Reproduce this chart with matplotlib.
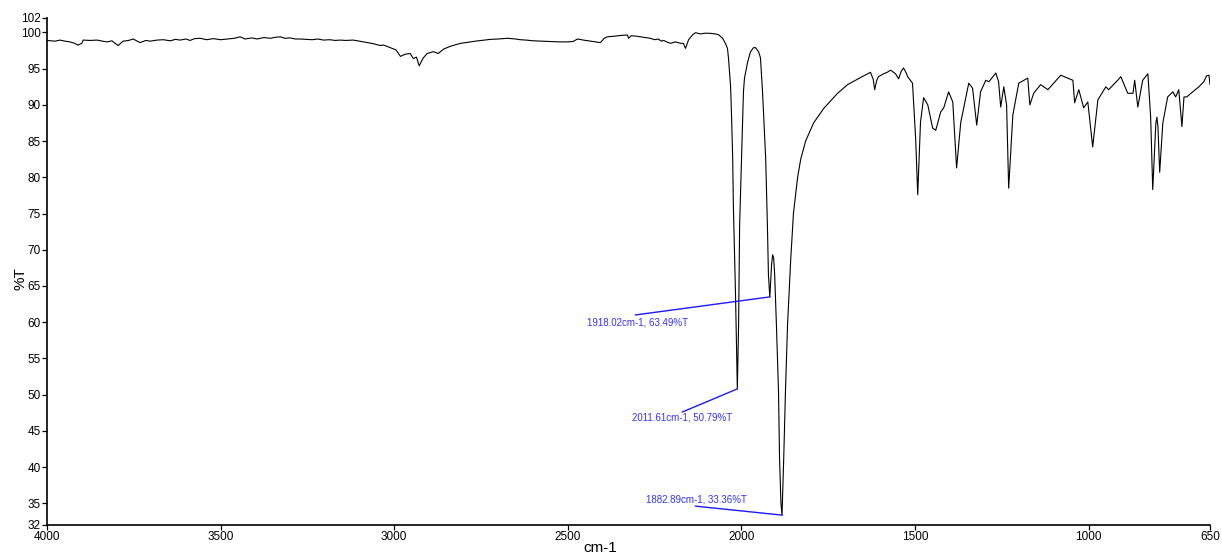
import matplotlib
matplotlib.use("Agg")
import matplotlib.pyplot as plt

# FT-IR transmittance spectrum (wavenumber in cm-1, transmittance in %T)
wavenumber = [
    4000, 3977, 3963, 3948, 3934, 3920, 3911, 3900, 3896, 3876, 3856, 3840,
    3827, 3813, 3801, 3795, 3781, 3765, 3752, 3740, 3732, 3715, 3703, 3683,
    3665, 3645, 3630, 3617, 3600, 3588, 3575, 3559, 3540, 3521, 3500, 3481,
    3460, 3444, 3430, 3410, 3395, 3375, 3357, 3340, 3328, 3315, 3300, 3285,
    3271, 3255, 3236, 3220, 3204, 3185, 3170, 3155, 3140, 3118, 3100, 3078,
    3060, 3040, 3031, 3011, 2995, 2982, 2968, 2954, 2945, 2936, 2928, 2916,
    2905, 2887, 2873, 2858, 2838, 2809, 2766, 2723, 2700, 2674, 2650, 2637,
    2620, 2599, 2575, 2550, 2525, 2501, 2485, 2472, 2455, 2435, 2420, 2406,
    2395, 2386, 2363, 2345, 2328, 2325, 2317, 2305, 2291, 2275, 2262, 2250,
    2240, 2230, 2224, 2215, 2204, 2190, 2175, 2167, 2161, 2152, 2140, 2132,
    2118, 2105, 2089, 2075, 2066, 2054, 2046, 2040, 2037, 2031, 2028, 2025,
    2023, 2020, 2017, 2014, 2011.61, 2008, 2005, 2000, 1997, 1994, 1991, 1982,
    1974, 1965, 1959, 1950, 1945, 1939, 1930, 1925, 1922, 1918.02, 1913, 1910,
    1907, 1904, 1899, 1893, 1890, 1886, 1882.89, 1878, 1873, 1867, 1858, 1850,
    1838, 1829, 1815, 1792, 1763, 1723, 1694, 1656, 1640, 1628, 1620, 1616,
    1610, 1605, 1590, 1580, 1570, 1556, 1547, 1540, 1533, 1527, 1521, 1507,
    1498, 1492, 1484, 1475, 1463, 1449, 1440, 1426, 1417, 1403, 1391, 1380,
    1368, 1345, 1334, 1322, 1311, 1296, 1287, 1267, 1259, 1253, 1244, 1236,
    1230, 1218, 1201, 1175, 1169, 1158, 1138, 1117, 1080, 1045, 1040, 1028,
    1014, 1002, 988, 973, 950, 942, 916, 907, 887, 872, 867, 858,
    844, 829, 821, 815, 806, 803, 800, 795, 786, 772, 757, 749,
    740, 731, 725, 717, 705, 682, 668, 660, 653, 650,
]
transmittance = [
    98.9, 98.8, 98.95, 98.8, 98.7, 98.5, 98.25, 98.5, 98.95, 98.9, 98.95, 98.8,
    98.7, 98.85, 98.4, 98.2, 98.8, 98.9, 99.1, 98.8, 98.6, 98.9, 98.8, 98.95,
    99.0, 98.85, 99.05, 98.95, 99.1, 98.9, 99.15, 99.2, 99.0, 99.15, 99.0, 99.1,
    99.2, 99.4, 99.1, 99.25, 99.1, 99.3, 99.2, 99.35, 99.4, 99.2, 99.25, 99.1,
    99.1, 99.05, 99.0, 99.1, 98.95, 99.0, 98.9, 98.95, 98.9, 98.95, 98.8, 98.6,
    98.45, 98.2, 98.27, 97.9, 97.6, 96.7, 97.0, 97.1, 96.4, 96.6, 95.4, 96.5,
    97.1, 97.35, 97.1, 97.7, 98.1, 98.5, 98.8, 99.05, 99.1, 99.2, 99.1, 99.0,
    98.95, 98.85, 98.8, 98.75, 98.7, 98.7, 98.75, 99.1, 98.95, 98.8, 98.7, 98.6,
    99.2, 99.4, 99.5, 99.6, 99.65, 99.2, 99.55, 99.5, 99.4, 99.3, 99.2, 99.0,
    99.1, 98.8, 98.9, 98.7, 98.5, 98.7, 98.5, 98.5, 97.8, 99.0, 99.7, 99.97,
    99.8, 99.9, 99.88, 99.8, 99.7, 99.2, 98.5, 97.8, 96.4, 92.5, 88.0, 82.7,
    76.0, 70.0, 64.2, 57.0, 50.79, 59.6, 73.4, 82.0, 87.2, 91.8, 93.7, 95.9,
    97.3, 97.9, 97.9, 97.3, 96.5, 91.8, 82.7, 73.4, 66.5, 63.49, 67.9, 69.3,
    68.9, 66.5, 59.6, 50.4, 41.2, 35.0, 33.36, 41.2, 50.4, 59.6, 68.5, 75.0,
    80.0, 82.5, 85.0, 87.5, 89.5, 91.6, 92.8, 93.8, 94.2, 94.5, 93.5, 92.1,
    93.4, 93.9, 94.3, 94.5, 94.8, 94.3, 93.6, 94.6, 95.1, 94.6, 93.9, 93.0,
    85.4, 77.6, 87.6, 91.0, 90.0, 86.8, 86.5, 89.0, 89.6, 91.8, 90.4, 81.3,
    87.6, 93.0, 92.3, 87.2, 91.8, 93.4, 93.2, 94.4, 93.2, 89.7, 92.5, 90.0,
    78.5, 88.6, 93.0, 93.7, 90.0, 91.6, 92.8, 92.1, 94.1, 93.4, 90.3, 92.1,
    89.6, 90.4, 84.2, 90.7, 92.5, 92.1, 93.4, 93.9, 91.6, 91.6, 93.4, 89.7,
    93.4, 94.3, 88.3, 78.3, 87.5, 88.3, 87.0, 80.7, 87.5, 91.1, 91.8, 91.1,
    92.1, 87.0, 91.1, 91.1, 91.6, 92.5, 93.2, 94.0, 94.1, 92.8,
]

# Labelled peaks, with where each label sits and where its leader line starts
peak_wn = [1918.02, 2011.61, 1882.89]
peak_t = [63.49, 50.79, 33.36]
label_xy = [(2299, 60.0), (2170, 46.9), (2129, 35.5)]
leader_start = [(2305, 61.0), (2170, 47.6), (2132, 34.6)]

x_ticks = [4000, 3500, 3000, 2500, 2000, 1500, 1000, 650]
y_ticks = [32, 35, 40, 45, 50, 55, 60, 65, 70, 75, 80, 85, 90, 95, 100, 102]

plt.rcParams["font.family"] = ["Liberation Sans", "DejaVu Sans"]

fig = plt.figure(figsize=(12.22, 5.57), dpi=100)
ax = fig.add_axes([0.0385, 0.0575, 0.9517, 0.9102])

ax.plot(wavenumber, transmittance, color="black", linewidth=0.8)

ax.set_xlim(4000, 650)
ax.set_ylim(32, 102)
ax.set_xticks(x_ticks)
ax.set_xticklabels([str(v) for v in x_ticks])
ax.set_yticks(y_ticks)
ax.set_yticklabels([str(v) for v in y_ticks])

for side in ("top", "right"):
    ax.spines[side].set_visible(False)
for side in ("left", "bottom"):
    ax.spines[side].set_linewidth(1.2)
    ax.spines[side].set_color("black")

ax.tick_params(axis="both", direction="out", length=3.5, width=0.9,
               labelsize=8.5, colors="black", pad=1)

ax.set_xlabel("cm-1", fontsize=11)
ax.set_ylabel("%T", fontsize=11)
ax.xaxis.set_label_coords(0.4755, -0.045)
ax.xaxis.label.set_va("center")
ax.yaxis.set_label_coords(-0.0232, 0.487)
ax.yaxis.label.set_va("center")
ax.yaxis.label.set_ha("center")

for w, t, (tx, ty), (sx, sy) in zip(peak_wn, peak_t, label_xy, leader_start):
    ax.plot([sx, w], [sy, t], color="#1a1aff", linewidth=1.0)
    ax.text(tx, ty, f"{w:.2f}cm-1, {t:.2f}%T", ha="center", va="center",
            fontsize=7, color="#3333ff")

fig.savefig("out.png", dpi=100)
